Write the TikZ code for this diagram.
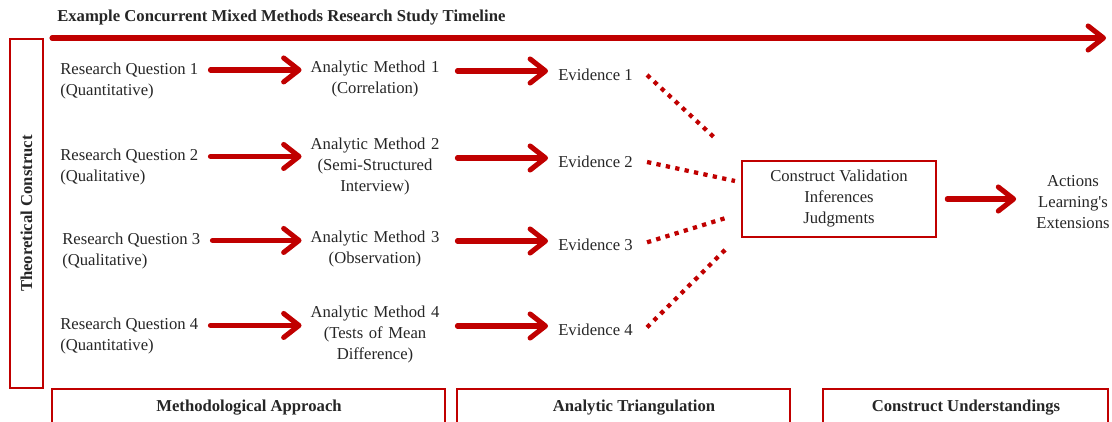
\documentclass[tikz,border=0pt]{standalone}
\usepackage{fontspec}
\setmainfont{Liberation Serif}
\usetikzlibrary{arrows.meta,calc}
\definecolor{dred}{HTML}{C00000}
\begin{document}
\begin{tikzpicture}[x=0.75pt,y=-0.75pt,
  every node/.style={font=\fontsize{12.5}{15.75}\selectfont, inner sep=0pt, text=black!85},
  arr/.style={draw=dred, line width=3.8pt, line cap=round,
    -{Straight Barb[length=11.5pt,width=18pt,line cap=round,line join=round]}},
  dots/.style={draw=dred, line width=3.2pt, dash pattern=on 3.2pt off 4pt},
  rbox/.style={draw=dred, line width=0.9pt},
  rq/.style={anchor=west, align=left},
  am/.style={align=center, text width=100pt},
  ev/.style={anchor=west},
  bold/.style={font=\fontsize{12.5}{15.75}\selectfont\bfseries}]
\useasboundingbox (0,0) rectangle (1112,421);
\clip (0,0) rectangle (1112,421);

\node[bold, anchor=west] (title) at (57,18) {Example Concurrent Mixed Methods Research Study Timeline};
\coordinate (tl0) at (52,38);
\coordinate (tl1) at (1106,38);
\draw[arr] (tl0) -- (tl1);

\node[rbox, bold, rotate=90, minimum width=261.75pt, minimum height=24.75pt] (tc) at (26.5,213.5) {Theoretical Construct};

% research questions
\node[rq] (rq1) at (60,80.5) {Research Question 1\\(Quantitative)};
\node[rq] (rq2) at (60,167) {Research Question 2\\(Qualitative)};
\node[rq] (rq3) at (62,251) {Research Question 3\\(Qualitative)};
\node[rq] (rq4) at (60,336) {Research Question 4\\(Quantitative)};

% analytic methods
\node[am] (am1) at (375,78.5) {Analytic Method 1\\(Correlation)};
\node[am] (am2) at (375,166) {Analytic Method 2\\(Semi-Structured\\Interview)};
\node[am] (am3) at (375,248.5) {Analytic Method 3\\(Observation)};
\node[am] (am4) at (375,334) {Analytic Method 4\\(Tests of Mean\\Difference)};

% evidence
\node[ev] (ev1) at (558,75) {Evidence 1};
\node[ev] (ev2) at (558,162) {Evidence 2};
\node[ev] (ev3) at (558,245) {Evidence 3};
\node[ev] (ev4) at (558,330) {Evidence 4};

\foreach \i in {1,2,3,4}{
  \path ([xshift=9pt,yshift=7.9pt]rq\i.east) coordinate (s\i);
  \draw[arr] (s\i) -- ([xshift=-4.9pt]s\i -| am\i.west);
  \path ([yshift=3pt]ev\i.west) coordinate (e\i);
  \draw[arr] ([xshift=11.6pt]e\i -| am\i.east) -- ([xshift=-7.5pt]e\i);
}

% construct validation
\node[rbox, minimum width=145.5pt, minimum height=57pt, align=center] (cv) at (839,199) {Construct Validation\\Inferences\\Judgments};
\node[align=center] (act) at (1073,202) {Actions\\Learning\textquotesingle s\\Extensions};
\path ([xshift=8pt]cv.east) coordinate (c0);
\draw[arr] (c0) -- ([xshift=-15pt]c0 -| act.west);

% dotted connectors
\coordinate (d1) at (717,140);
\coordinate (d2) at (735,181);
\coordinate (d3) at (729,217);
\coordinate (d4) at (728,247);
\draw[dots] ([xshift=10.5pt]ev1.east) -- (d1);
\draw[dots] ([xshift=10.5pt]ev2.east) -- (d2);
\draw[dots] ([xshift=10.5pt,yshift=2pt]ev3.east) -- (d3);
\draw[dots] ([xshift=10.5pt,yshift=2pt]ev4.east) -- (d4);

% bottom boxes
\draw[rbox] (52,430) |- (445,389) -- (445,430);
\draw[rbox] (457,430) |- (790,389) -- (790,430);
\draw[rbox] (823,430) |- (1108,389) -- (1108,430);
\node[bold] (b1) at (249,408) {Methodological Approach};
\node[bold] (b2) at (634,408) {Analytic Triangulation};
\node[bold] (b3) at (966,408) {Construct Understandings};
\end{tikzpicture}
\end{document}
